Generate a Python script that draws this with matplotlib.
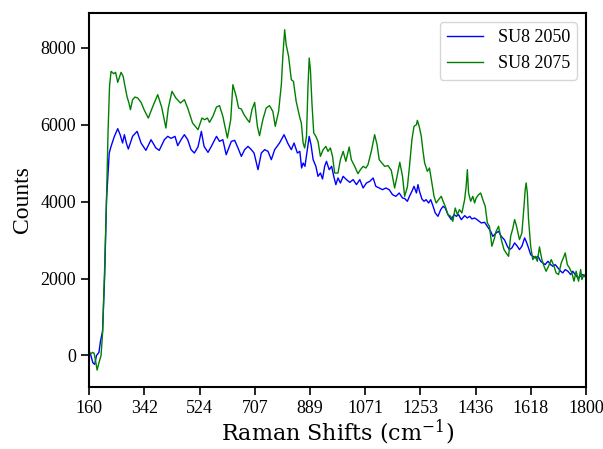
import numpy as np
import matplotlib
matplotlib.use("Agg")
import matplotlib.pyplot as plt

# spectra (cm^-1, counts)
x2050 = [160, 165, 172, 178, 184, 192, 197, 204, 211, 217, 221, 226, 232, 243, 254,
         262, 270, 276, 283, 289, 303, 318, 331, 347, 364, 380, 391, 408, 419, 430,
         443, 452, 463, 474, 485, 496, 507, 519, 530, 539, 552, 563, 580, 590, 601,
         612, 629, 640, 651, 662, 673, 684, 695, 704, 717, 728, 739, 750, 761, 772,
         788, 803, 816, 827, 836, 847, 855, 861, 866, 872, 879, 886, 892, 899, 908,
         915, 923, 930, 937, 943, 952, 960, 967, 974, 981, 989, 998, 1009, 1020, 1031,
         1042, 1053, 1064, 1075, 1086, 1097, 1106, 1117, 1128, 1139, 1150, 1161, 1172, 1183, 1194,
         1201, 1210, 1217, 1225, 1232, 1240, 1245, 1250, 1258, 1265, 1272, 1280, 1287, 1295, 1302,
         1311, 1320, 1328, 1335, 1344, 1355, 1364, 1372, 1379, 1388, 1399, 1408, 1416, 1423, 1432,
         1443, 1454, 1465, 1474, 1485, 1492, 1503, 1511, 1520, 1531, 1540, 1547, 1555, 1564, 1573,
         1580, 1588, 1597, 1602, 1608, 1617, 1624, 1632, 1641, 1650, 1657, 1665, 1674, 1683, 1690,
         1698, 1707, 1716, 1723, 1731, 1740, 1749, 1756, 1764, 1773, 1782, 1789, 1795, 1800]
y2050 = [60, 10, -190, -230, 0, 80, 370, 630, 2100, 4050, 4570, 5262, 5435, 5695, 5894,
         5738, 5522, 5738, 5505, 5366, 5695, 5825, 5522, 5331, 5608, 5392, 5331, 5608, 5695, 5643,
         5695, 5453, 5608, 5738, 5608, 5349, 5262, 5420, 5825, 5435, 5279, 5435, 5695, 5565, 5608,
         5219, 5565, 5591, 5392, 5175, 5349, 5435, 5349, 5262, 4829, 5262, 5349, 5305, 5089, 5349,
         5522, 5738, 5505, 5349, 5522, 5262, 5305, 4872, 5002, 4916, 5305, 5695, 5478, 5089, 4916,
         4656, 4742, 4587, 4916, 5045, 4829, 4916, 4656, 4440, 4613, 4483, 4656, 4570, 4500, 4570,
         4440, 4570, 4353, 4483, 4526, 4613, 4396, 4353, 4309, 4353, 4309, 4180, 4136, 4223, 4093,
         4080, 4007, 4137, 4267, 4396, 4223, 4440, 4267, 4067, 4007, 4050, 3963, 4050, 3877, 3704,
         3617, 3790, 3877, 3833, 3660, 3530, 3660, 3617, 3660, 3530, 3634, 3574, 3617, 3548, 3574,
         3513, 3444, 3461, 3357, 3227, 3097, 3184, 3227, 3097, 3000, 2839, 2752, 2795, 2925, 2839,
         2752, 2839, 3055, 2969, 2839, 2622, 2579, 2536, 2579, 2449, 2406, 2362, 2449, 2362, 2319,
         2362, 2276, 2189, 2146, 2233, 2189, 2103, 2189, 2103, 2016, 2060, 2103, 2060, 2080]

x2075 = [160, 165, 171, 176, 182, 186, 192, 199, 204, 211, 217, 222, 227, 232, 241,
         247, 254, 265, 272, 278, 285, 291, 296, 303, 311, 320, 331, 342, 355, 369,
         386, 399, 413, 421, 433, 446, 461, 474, 485, 501, 508, 519, 532, 541, 550,
         557, 568, 580, 590, 601, 616, 627, 634, 645, 653, 662, 671, 682, 689, 697,
         706, 715, 722, 733, 744, 755, 766, 774, 785, 794, 799, 805, 810, 818, 827,
         834, 843, 854, 860, 866, 871, 877, 882, 886, 890, 895, 901, 908, 915, 923,
         932, 941, 948, 956, 963, 970, 981, 989, 998, 1007, 1018, 1025, 1036, 1047, 1055,
         1064, 1073, 1080, 1091, 1102, 1110, 1117, 1124, 1135, 1146, 1157, 1168, 1176, 1185, 1194,
         1201, 1210, 1217, 1225, 1232, 1240, 1243, 1249, 1256, 1261, 1267, 1276, 1283, 1291, 1298,
         1305, 1313, 1322, 1328, 1335, 1344, 1353, 1360, 1368, 1375, 1382, 1390, 1399, 1404, 1408,
         1412, 1419, 1426, 1432, 1437, 1445, 1452, 1459, 1467, 1474, 1481, 1489, 1496, 1503, 1511,
         1520, 1529, 1536, 1544, 1551, 1558, 1564, 1569, 1575, 1580, 1588, 1595, 1599, 1602, 1606,
         1610, 1617, 1624, 1632, 1639, 1646, 1654, 1661, 1668, 1676, 1685, 1694, 1701, 1709, 1718,
         1727, 1731, 1738, 1745, 1753, 1760, 1767, 1775, 1782, 1786, 1793, 1800]
y2075 = [110, 40, 80, 60, -190, -380, -190, 0, 590, 2320, 4050, 5800, 7000, 7384, 7323,
         7358, 7098, 7358, 7254, 6994, 6717, 6561, 6388, 6648, 6717, 6691, 6578, 6370, 6171, 6457,
         6778, 6457, 5912, 6431, 6864, 6691, 6561, 6648, 6431, 6041, 5972, 5868, 6171, 6128, 6171,
         6059, 6215, 6457, 6492, 6215, 5652, 6128, 7037, 6734, 6431, 6405, 6258, 6128, 6059, 6388,
         6578, 5955, 5712, 6128, 6431, 6492, 6344, 5955, 6344, 7037, 7773, 8466, 8076, 7773, 7167,
         7124, 6604, 6215, 6041, 5522, 5392, 5695, 6994, 7730, 7427, 6561, 5782, 5695, 5565, 5175,
         5349, 5435, 5305, 5392, 5175, 4742, 4742, 5089, 5305, 5045, 5418, 5089, 4916, 4725, 4829,
         4916, 4872, 4959, 5305, 5738, 5478, 5089, 5020, 4916, 4933, 4812, 4353, 4656, 5020, 4656,
         4137, 4379, 4916, 5609, 5955, 5999, 6111, 5955, 5695, 5349, 5003, 4786, 4873, 4483, 4137,
         3963, 4050, 4137, 4007, 3877, 3660, 3617, 3487, 3833, 3660, 3790, 3704, 4050, 4396, 4829,
         4223, 4007, 4137, 3963, 4093, 4180, 4223, 4050, 3877, 3444, 3357, 2838, 3011, 3227, 3357,
         3011, 2751, 2665, 2578, 3100, 3300, 3532, 3402, 3185, 3012, 3185, 3878, 4311, 4484, 4224,
         3532, 2839, 2492, 2579, 2449, 2822, 2492, 2319, 2189, 2319, 2492, 2319, 2146, 2103, 2406,
         2579, 2666, 2362, 2276, 2146, 1930, 2189, 1930, 2233, 1973, 2103, 2000]

xticks = np.linspace(160, 1800, 10)

plt.rcParams['font.family'] = 'serif'
plt.rcParams['font.serif'] = ['Liberation Serif', 'DejaVu Serif']
plt.rcParams['mathtext.fontset'] = 'dejavuserif'

fig = plt.figure(figsize=(6.03, 4.49), dpi=100)
ax = fig.add_axes([0.148, 0.138, 0.824, 0.833])
ax.plot(x2050, y2050, color='blue', lw=1, label='SU8 2050')
ax.plot(x2075, y2075, color='green', lw=1, label='SU8 2075')
ax.set_xlim(160, 1800)
ax.set_ylim(-820, 8900)
ax.set_xticks(xticks)
ax.set_xticklabels([str(int(round(t))) for t in xticks])
ax.set_yticks([0, 2000, 4000, 6000, 8000])
ax.tick_params(labelsize=13, length=5.5, width=1.2, pad=4)
for s in ax.spines.values():
    s.set_linewidth(1.5)
ax.set_xlabel(r'$\mathrm{Raman\ Shifts\ (cm^{-1})}$', fontsize=16, labelpad=0)
ax.set_ylabel("Counts", fontsize=17, labelpad=5)
ax.legend(loc='upper right', fontsize=13)
fig.savefig("out.png", dpi=100)
